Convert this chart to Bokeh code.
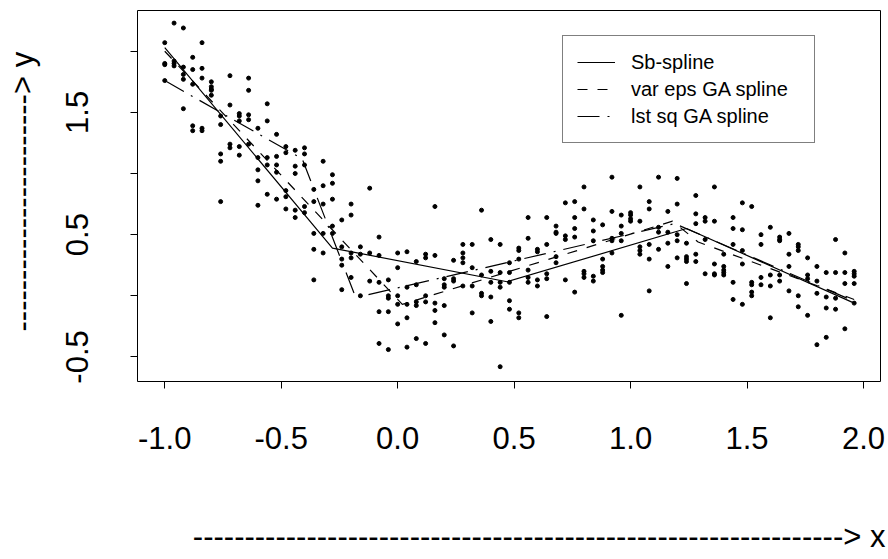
import math
from bokeh.plotting import figure
from bokeh.models import Range1d, FixedTicker, PrintfTickFormatter, Legend, LegendItem
from bokeh.embed import file_html
from bokeh.resources import INLINE

# ---- data: x grid columns and the y observations at each x ----
x_cols = [-1.00, -0.96, -0.92, -0.88, -0.84, -0.80, -0.76, -0.72, -0.68, -0.64,
          -0.60, -0.56, -0.52, -0.48, -0.44, -0.40, -0.36, -0.32, -0.28, -0.24,
          -0.20, -0.16, -0.12, -0.08, -0.04, 0.00, 0.04, 0.08, 0.12, 0.16,
          0.20, 0.24, 0.28, 0.32, 0.36, 0.40, 0.44, 0.48, 0.52, 0.56,
          0.60, 0.64, 0.68, 0.72, 0.76, 0.80, 0.84, 0.88, 0.92, 0.96,
          1.00, 1.04, 1.08, 1.12, 1.16, 1.20, 1.24, 1.28, 1.32, 1.36,
          1.40, 1.44, 1.48, 1.52, 1.56, 1.60, 1.64, 1.68, 1.72, 1.76,
          1.80, 1.84, 1.88, 1.92, 1.96]
y_cols = [
    [2.07, 1.90, 1.89, 1.76],
    [2.23, 1.92, 1.90, 1.88],
    [2.19, 1.87, 1.81, 1.77, 1.53],
    [1.95, 1.85, 1.73, 1.39, 1.35],
    [2.07, 1.86, 1.78, 1.37, 1.35],
    [1.75, 1.71, 1.69, 1.68, 1.64],
    [1.47, 1.40, 1.16, 1.10, 0.77],
    [1.80, 1.56, 1.24, 1.21],
    [1.49, 1.47, 1.43, 1.22, 1.15],
    [1.78, 1.68, 1.48, 1.44, 1.24],
    [1.37, 1.13, 1.03, 0.94, 0.74],
    [1.57, 1.43, 1.13, 1.07, 0.83],
    [1.32, 1.14, 1.07, 1.01, 0.79],
    [1.22, 1.17, 0.86, 0.81, 0.71],
    [1.19, 1.06, 1.00, 0.70, 0.64],
    [1.21, 1.16, 1.07, 0.73, 0.68],
    [0.87, 0.77, 0.51, 0.38, 0.13],
    [1.10, 0.90, 0.75, 0.51, 0.35],
    [0.99, 0.92, 0.79, 0.57, 0.51],
    [0.62, 0.40, 0.30, 0.25, 0.05],
    [0.75, 0.66, 0.35, 0.31, 0.15],
    [0.40, 0.34, 0.00],
    [0.88, 0.35, 0.12],
    [0.48, 0.33, 0.11, -0.13, -0.39],
    [0.13, 0.00, -0.02, -0.13, -0.44],
    [0.35, 0.23, 0.00, -0.07, -0.23],
    [0.36, 0.07, -0.07, -0.18, -0.42],
    [0.28, 0.09, -0.05, -0.08, -0.35],
    [0.34, 0.31, 0.00, -0.05, -0.39],
    [0.73, 0.33, -0.06, -0.12, -0.22],
    [0.14, 0.09, 0.07, -0.08, -0.32],
    [0.29, 0.14, 0.12, -0.41],
    [0.42, 0.35, 0.31, 0.27, 0.08],
    [0.42, 0.23, 0.08, -0.14],
    [0.70, 0.17, 0.02, 0.00],
    [0.46, 0.20, 0.11, -0.01, -0.21],
    [0.42, 0.19, 0.11, 0.07, -0.58],
    [0.27, 0.19, 0.11, -0.04, -0.11],
    [0.39, 0.37, 0.30, -0.14, -0.18],
    [0.64, 0.47, 0.21, 0.15, 0.11],
    [0.38, 0.36, 0.13, 0.08],
    [0.64, 0.42, 0.18, 0.14, -0.17],
    [0.57, 0.52, 0.51, 0.32, 0.27],
    [0.76, 0.49, 0.46, 0.13],
    [0.77, 0.64, 0.55, 0.48, 0.03],
    [0.89, 0.71, 0.20, 0.18, 0.15],
    [0.62, 0.53, 0.45, 0.16, 0.12],
    [0.58, 0.30, 0.24, 0.21, 0.19],
    [0.97, 0.69, 0.47, 0.45, 0.35],
    [0.66, 0.57, 0.51, 0.45, -0.16],
    [0.68, 0.66, 0.63, 0.61],
    [0.89, 0.61, 0.40, 0.37, 0.34],
    [0.77, 0.71, 0.42, 0.30, 0.04],
    [0.97, 0.56, 0.52, 0.38],
    [0.69, 0.52, 0.43, 0.24],
    [0.96, 0.75, 0.50, 0.45, 0.31],
    [0.43, 0.32, 0.30, 0.28, 0.10],
    [0.82, 0.67, 0.59, 0.34, 0.28],
    [0.64, 0.61, 0.46, 0.18],
    [0.89, 0.61, 0.26, 0.18, 0.17],
    [0.34, 0.24, 0.21, 0.19, 0.17],
    [0.64, 0.55, 0.42, 0.11, -0.03],
    [0.76, 0.54, 0.37, 0.26, -0.07],
    [0.73, 0.11, 0.09, 0.03, 0.00],
    [0.50, 0.42, 0.15, 0.09],
    [0.56, 0.17, 0.08, -0.18],
    [0.48, 0.46, 0.45, 0.17, 0.12],
    [0.51, 0.34, 0.24, 0.04],
    [0.42, 0.40, 0.37, 0.00, -0.09],
    [0.31, 0.17, 0.14, -0.16],
    [0.24, 0.12, 0.02, -0.40],
    [0.19, -0.01, -0.10, -0.34],
    [0.46, 0.19, -0.02, -0.11],
    [0.35, 0.19, 0.10, -0.27],
    [0.20, 0.18, 0.16, 0.10, -0.06],
]

# fitted linear splines (knots)
sb_x = [-1.00, -0.28, 0.47, 1.24, 1.96]
sb_y = [2.03, 0.39, 0.115, 0.55, -0.06]
ve_x = [-1.00, 0.02, 1.18, 1.29, 1.96]
ve_y = [2.00, -0.07, 0.61, 0.44, -0.03]
ls_x = [-1.00, -0.41, -0.18, 1.19, 1.96]
ls_y = [1.76, 1.12, -0.015, 0.59, -0.045]

series_names = ["Sb-spline", "var eps GA spline", "lst sq GA spline"]

x_ticks = [-1.0, -0.5, 0.0, 0.5, 1.0, 1.5, 2.0]
y_ticks = [-0.5, 0.0, 0.5, 1.0, 1.5, 2.0]
y_tick_labels = ["-0.5", "", "0.5", "", "1.5", ""]

x_title = "-" * 63 + "> x"
y_title = "-" * 23 + "> y"

# ---- figure ----
xs = [x for x, col in zip(x_cols, y_cols) for _ in col]
ys = [y for col in y_cols for y in col]

FONT = "Liberation Sans"
NBSP = "\u00a0"

p = figure(width=888, height=559, output_backend="svg", toolbar_location=None,
           title=None,
           x_range=Range1d(-1.117, 2.073), y_range=Range1d(-0.701, 2.333),
           min_border_left=137, min_border_right=8, min_border_top=10,
           min_border_bottom=178)
p.background_fill_color = "white"
p.border_fill_color = "white"
p.outline_line_color = "black"
p.outline_line_width = 1
p.xgrid.visible = False
p.ygrid.visible = False

for ax in (p.xaxis, p.yaxis):
    ax.axis_line_color = None
    ax.major_tick_line_color = "black"
    ax.major_tick_out = 7
    ax.major_tick_in = 0
    ax.minor_tick_line_color = None
    ax.major_label_text_font = FONT
    ax.major_label_text_font_size = "31px"
    ax.major_label_text_color = "black"
    ax.axis_label_text_font = FONT
    ax.axis_label_text_font_size = "31px"
    ax.axis_label_text_font_style = "normal"
    ax.axis_label_text_color = "black"

p.xaxis.ticker = FixedTicker(ticks=x_ticks)
p.xaxis.formatter = PrintfTickFormatter(format="%.1f")
p.xaxis.major_label_standoff = 38
p.xaxis.axis_label = NBSP * 7 + x_title
p.xaxis.axis_label_standoff = 67

p.yaxis.ticker = FixedTicker(ticks=y_ticks)
p.yaxis.formatter = PrintfTickFormatter(format="%.1f")
p.yaxis.major_label_overrides = {t: l for t, l in zip(y_ticks, y_tick_labels)}
p.yaxis.major_label_orientation = "parallel"
p.yaxis.major_label_standoff = 42
p.yaxis.axis_label = NBSP + y_title
p.yaxis.axis_label_standoff = 24

p.scatter(xs, ys, size=4, color="black")

r_sb = p.line(sb_x, sb_y, line_color="black", line_width=1.2)
r_ve = p.line(ve_x, ve_y, line_color="black", line_width=1.2, line_dash="10 10")
r_ls = p.line(ls_x, ls_y, line_color="black", line_width=1.2, line_dash="22 8 2 8")

legend = Legend(items=[LegendItem(label=series_names[0], renderers=[r_sb]),
                       LegendItem(label=series_names[1], renderers=[r_ve]),
                       LegendItem(label=series_names[2], renderers=[r_ls])],
                location=(425, 238), padding=14, spacing=3, margin=0,
                glyph_width=38, glyph_height=24, label_height=24, label_width=169,
                label_standoff=16, label_text_font=FONT, label_text_font_size="20px",
                label_text_color="black", border_line_color="black",
                border_line_width=1, background_fill_color="white",
                background_fill_alpha=1.0)
p.add_layout(legend)

open("out.html", "w").write(file_html(p, INLINE))
